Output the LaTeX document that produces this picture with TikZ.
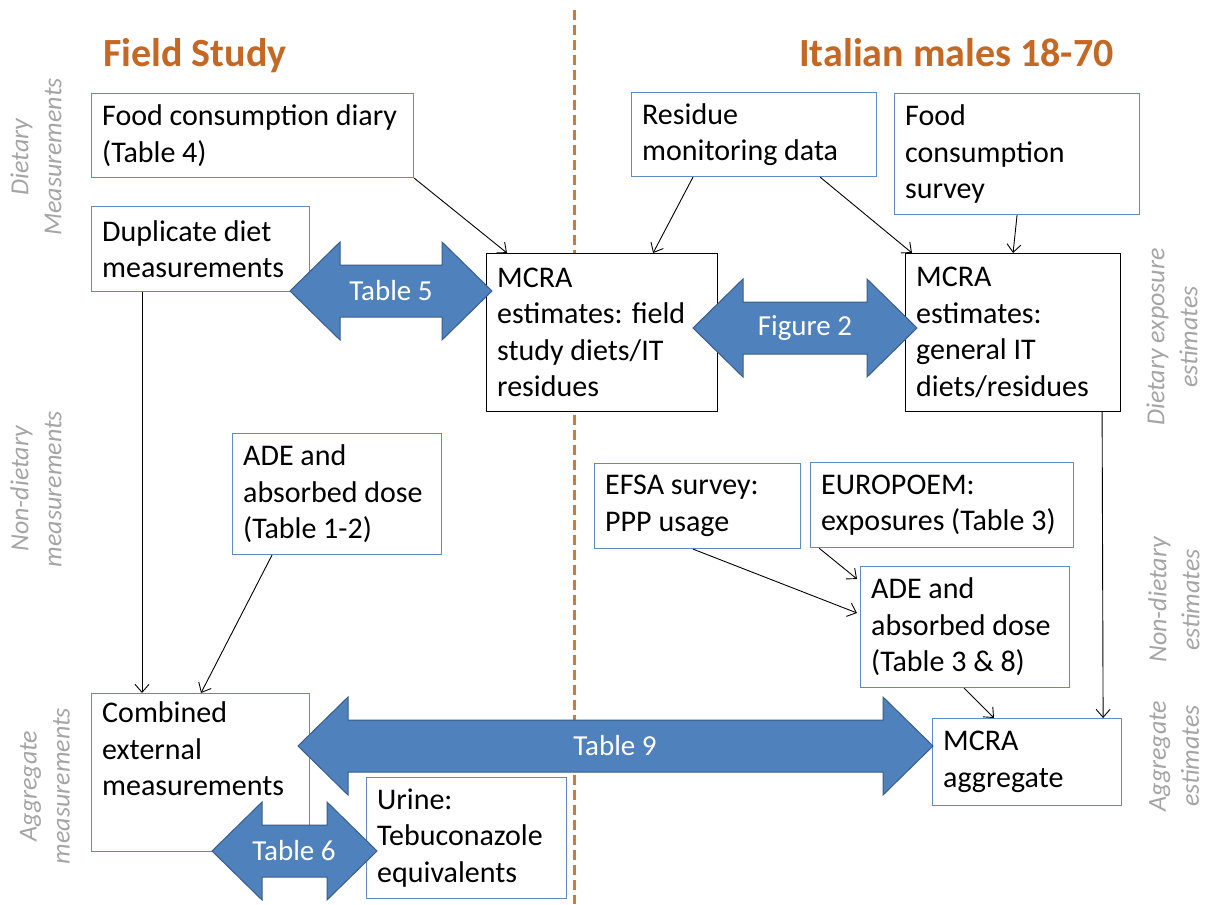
\documentclass[tikz,border=0pt]{standalone}
\usepackage{fontspec}
\setmainfont{Carlito}
\usetikzlibrary{arrows.meta}
\definecolor{boxblue}{RGB}{95,140,190}
\definecolor{arrfill}{RGB}{79,129,189}
\definecolor{arrdraw}{RGB}{56,93,138}
\definecolor{titleor}{RGB}{196,104,36}
\definecolor{dashor}{RGB}{210,122,50}
\definecolor{sidegray}{RGB}{165,165,165}
\newcommand\blockarr[3]{%
  \filldraw[barrow] (#1,#3) -- ({#1+50},{#3-49}) -- ({#1+50},{#3-26}) -- ({#2-50},{#3-26}) -- ({#2-50},{#3-49}) -- (#2,#3) -- ({#2-50},{#3+49}) -- ({#2-50},{#3+26}) -- ({#1+50},{#3+26}) -- ({#1+50},{#3+49}) -- cycle;}
\begin{document}
\begin{tikzpicture}[x=1pt,y=-1pt,
  bx/.style={draw=boxblue, line width=1.1pt, fill=white, anchor=north west, inner sep=0pt},
  bxk/.style={bx, draw=black},
  txt/.style={anchor=west, align=left, inner sep=0pt, font=\fontsize{30}{36.5}\selectfont},
  side/.style={align=center, inner sep=0pt, text=sidegray, font=\fontsize{26}{33}\selectfont\itshape, rotate=90},
  ttl/.style={anchor=base west, inner sep=0pt, text=titleor, font=\fontsize{40}{48}\selectfont\bfseries},
  barrow/.style={fill=arrfill, draw=arrdraw, line width=1pt, line join=miter},
  alabel/.style={inner sep=0pt, text=white, font=\fontsize{29}{34}\selectfont},
  conn/.style={draw=black, line width=0.9pt, -{Straight Barb[length=8pt,width=14pt]}}]
\useasboundingbox (0,0) rectangle (1206,904);
\fill[white] (0,0) rectangle (1206,904);
% divider
\coordinate (dtop) at (574,10);
\coordinate (dbot) at (574,904);
\draw[dashor, line width=3pt, dash pattern=on 10pt off 5pt] (dtop) -- (dbot);
% titles
\node[ttl] (tfield) at (103,67) {Field Study};
\node[ttl] (titaly) at (799,67) {Italian males 18-70};
% side labels
\node[side] (l1) at (36,157) {Dietary\\Measurements};
\node[side] (l2) at (36,489) {Non-dietary\\measurements};
\node[side] (l3) at (45,786) {Aggregate\\measurements};
\node[side] (r1) at (1172,337) {Dietary exposure\\estimates};
\node[side] (r2) at (1174,600) {Non-dietary\\estimates};
\node[side] (r3) at (1174,756) {Aggregate\\estimates};
% boxes
\node[bx, minimum width=322, minimum height=84] (fcd) at (91,93) {};
\node[txt] (fcdt) at ([xshift=11pt]fcd.west) {Food consumption diary\\(Table 4)};
\node[bx, minimum width=218, minimum height=85] (dup) at (91,206) {};
\node[txt] (dupt) at ([xshift=11pt]dup.west) {Duplicate diet\\measurements};
\node[bxk, minimum width=231, minimum height=158] (mf) at (486,253) {};
\node[txt] (mft) at ([xshift=11pt]mf.west) {MCRA\\estimates: field\\study diets/IT\\residues};
\node[bx, minimum width=245, minimum height=84] (res) at (631,92) {};
\node[txt] (rest) at ([xshift=11pt]res.west) {Residue\\monitoring data};
\node[bx, minimum width=245, minimum height=121] (fcs) at (894,93) {};
\node[txt] (fcst) at ([xshift=11pt]fcs.west) {Food\\consumption\\survey};
\node[bxk, minimum width=215, minimum height=158] (mg) at (905,253) {};
\node[txt] (mgt) at ([xshift=11pt]mg.west) {MCRA\\estimates:\\general IT\\diets/residues};
\node[bx, minimum width=209, minimum height=121] (ade1) at (232,433) {};
\node[txt] (ade1t) at ([xshift=11pt]ade1.west) {ADE and\\absorbed dose\\(Table 1-2)};
\node[bx, minimum width=206, minimum height=85] (efsa) at (594,463) {};
\node[txt] (efsat) at ([xshift=11pt]efsa.west) {EFSA survey:\\PPP usage};
\node[bx, minimum width=263, minimum height=85] (euro) at (810,462) {};
\node[txt] (eurot) at ([xshift=11pt]euro.west) {EUROPOEM:\\exposures (Table 3)};
\node[bx, minimum width=209, minimum height=121] (ade2) at (860,566) {};
\node[txt] (ade2t) at ([xshift=11pt]ade2.west) {ADE and\\absorbed dose\\(Table 3 \& 8)};
\node[bx, minimum width=200, minimum height=121] (urine) at (366,777) {};
\node[txt] (urinet) at ([xshift=11pt]urine.west) {Urine:\\Tebuconazole\\equivalents};
\node[bx, minimum width=189, minimum height=87] (agg) at (932,718) {};
\node[txt] (aggt) at ([xshift=11pt]agg.west) {MCRA\\aggregate};
\node[bx, minimum width=218, minimum height=158] (comb) at (91,693) {};
\node[txt] (combt) at ([xshift=11pt]comb.west) {Combined\\external\\measurements\\\strut};
% block arrows
\blockarr{290}{492}{291}
\node[alabel] (a5) at (391,291) {Table 5};
\blockarr{693}{917}{328}
\node[alabel] (a2) at (805,328) {Figure 2};
\blockarr{212}{377}{851}
\node[alabel] (a6) at (294,851) {Table 6};
\blockarr{298}{933}{746}
\node[alabel] (a9) at (615,746) {Table 9};
% connectors
\draw[conn] (fcd.south east) -- ([xshift=21pt]mf.north west);
\draw[conn] ([xshift=62pt]res.south west) -- ([xshift=-65pt]mf.north east);
\draw[conn] ([xshift=-57pt]res.south east) -- ([xshift=7pt]mg.north west);
\draw[conn] (fcs.south) -- (mg.north);
\draw[conn] ([xshift=51pt]dup.south west) -- ([xshift=51pt]comb.north west);
\draw[conn] ([xshift=40pt]ade1.south west) -- ([xshift=110pt]comb.north west);
\draw[conn] ([xshift=-19pt]mg.south east) -- ([xshift=-19pt]agg.north east);
\draw[conn] ([xshift=9pt]euro.south west) -- ([yshift=-13pt,xshift=-3pt]ade2.north west);
\draw[conn] ([xshift=99pt]efsa.south west) -- ([yshift=-47pt,xshift=-3pt]ade2.north west);
\draw[conn] ([xshift=104pt]ade2.south west) -- ([xshift=62pt]agg.north west);
\end{tikzpicture}
\end{document}
